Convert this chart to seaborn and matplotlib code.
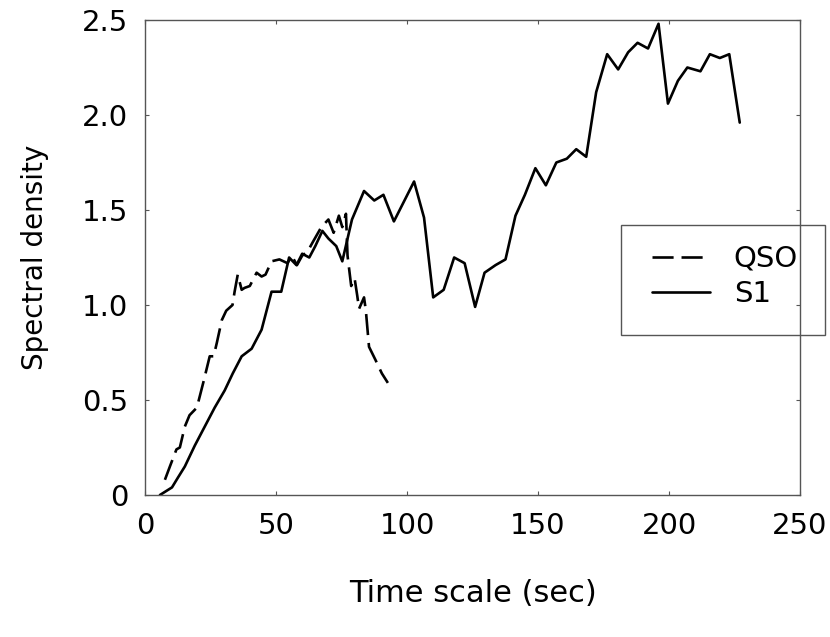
import numpy as np
import pandas as pd
import matplotlib
matplotlib.use('Agg')
import matplotlib.pyplot as plt
import seaborn as sns
from matplotlib.ticker import FuncFormatter
from matplotlib.patches import Rectangle

# values
qso_x = [7.6, 9.5, 12, 13.3, 15.2, 17, 19.8, 22.4, 24.7, 26.2, 27.4, 29.3, 31, 33.4,
         34.2, 35.4, 36.9, 38, 40, 42.6, 44.5, 46, 48.3, 51.3, 54.4, 56, 58, 60, 62,
         64, 67.3, 70, 72, 74, 75.3, 76.7, 77.3, 78.7, 80, 81, 81.7, 83.6, 84.3, 85.5,
         88, 90.4, 92.7]
qso_y = [0.08, 0.15, 0.24, 0.25, 0.36, 0.42, 0.46, 0.60, 0.73, 0.73, 0.80, 0.92, 0.97,
         1.00, 1.07, 1.16, 1.08, 1.09, 1.10, 1.17, 1.15, 1.16, 1.23, 1.24, 1.22, 1.26,
         1.21, 1.26, 1.28, 1.33, 1.41, 1.45, 1.38, 1.47, 1.41, 1.48, 1.26, 1.10, 1.14,
         1.05, 0.98, 1.04, 0.97, 0.78, 0.71, 0.64, 0.59]

s1_x = [5.7, 10.3, 12.5, 15.2, 19, 22.8, 26.6, 30.4, 33.5, 36.9, 40.7, 44.5, 48.3, 52,
        55, 57.8, 60, 62.7, 65, 67.7, 70, 73, 75.3, 79, 83.6, 87.5, 91, 95, 102.7,
        106.5, 110, 114, 118, 122, 126, 129.6, 133.8, 137.6, 141.4, 145, 149, 153, 157,
        161, 164.6, 168.4, 172.2, 176.4, 180.6, 184.4, 188, 192, 196, 199.6, 203.4, 207,
        212, 215.6, 219.4, 223, 227]
s1_y = [0.0, 0.04, 0.09, 0.15, 0.26, 0.36, 0.46, 0.55, 0.64, 0.73, 0.77, 0.87, 1.07,
        1.07, 1.25, 1.21, 1.27, 1.25, 1.31, 1.39, 1.35, 1.31, 1.23, 1.45, 1.60, 1.55,
        1.58, 1.44, 1.65, 1.46, 1.04, 1.08, 1.25, 1.22, 0.99, 1.17, 1.21, 1.24, 1.47,
        1.58, 1.72, 1.63, 1.75, 1.77, 1.82, 1.78, 2.12, 2.32, 2.24, 2.33, 2.38, 2.35,
        2.48, 2.06, 2.18, 2.25, 2.23, 2.32, 2.30, 2.32, 1.96]

x_ticks = [0, 50, 100, 150, 200, 250]
y_ticks = [0, 0.5, 1.0, 1.5, 2.0, 2.5]

df = pd.concat([
    pd.DataFrame({'t': qso_x, 'sd': qso_y, 'series': 'QSO'}),
    pd.DataFrame({'t': s1_x, 'sd': s1_y, 'series': 'S1'}),
])

sns.set_style('ticks')
plt.rcParams['font.family'] = ['DejaVu Sans']
plt.rcParams['text.color'] = 'black'
plt.rcParams['axes.labelcolor'] = 'black'
plt.rcParams['xtick.labelcolor'] = 'black'
plt.rcParams['ytick.labelcolor'] = 'black'

fig = plt.figure(figsize=(8.3, 6.37), dpi=100)
ax = fig.add_axes([145 / 830, 1 - 495 / 637, 655 / 830, 475 / 637])

sns.lineplot(data=df, x='t', y='sd', style='series', dashes={'QSO': (8, 3), 'S1': ''},
             color='black', linewidth=1.9, sort=False, estimator=None, ax=ax, legend=False)

ax.set_xlim(0, 250)
ax.set_ylim(0, 2.5)
ax.set_xticks(x_ticks)
ax.set_yticks(y_ticks)
ax.yaxis.set_major_formatter(FuncFormatter(lambda v, p: '0' if v == 0 else f'{v:.1f}'))
ax.tick_params(direction='in', length=3, width=0.8, color='#555555', top=True, right=True,
               labelsize=21, pad=12)
for sp in ax.spines.values():
    sp.set_color('#555555')
    sp.set_linewidth(1)

ax.set_xlabel('Time scale (sec)', fontsize=22, labelpad=28)
ax.set_ylabel('Spectral density', fontsize=20, labelpad=24)

# legend box sits partly outside the axes, as in the original
fig.patches.append(Rectangle((621 / 830, 1 - 335 / 637), 204 / 830, 110 / 637,
                             transform=fig.transFigure, fill=False, ec='#555555', lw=1))
handles = [plt.Line2D([], [], color='black', lw=1.9, dashes=(8, 3)),
           plt.Line2D([], [], color='black', lw=1.9)]
fig.legend(handles, ['QSO', 'S1'], loc='upper left', bbox_to_anchor=(652 / 830, 1 - 245 / 637),
           fontsize=21, frameon=False, handlelength=2.0, borderpad=0, labelspacing=0.25,
           borderaxespad=0, handletextpad=0.8)

fig.savefig('out.png', dpi=100)
